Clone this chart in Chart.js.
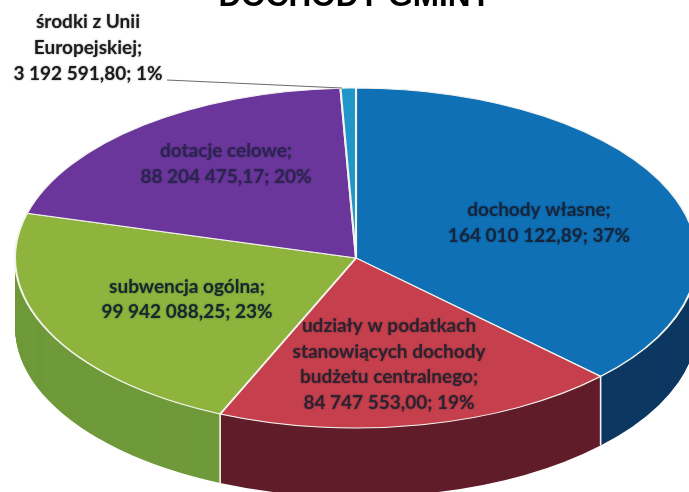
<!DOCTYPE html>
<html><head><meta charset="utf-8">
<style>html,body{margin:0;padding:0;background:#fff;overflow:hidden}canvas{display:block}</style>
<script src="https://cdn.jsdelivr.net/npm/chart.js@4"></script>
</head><body><canvas id="c" width="689" height="492"></canvas>
<script>
const chartTitle = "DOCHODY GMINY";
const categories = ["dochody własne", "udziały w podatkach stanowiących dochody budżetu centralnego", "subwencja ogólna", "dotacje celowe", "środki z Unii Europejskiej"];
const values = [164010122.89, 84747553.00, 99942088.25, 88204475.17, 3192591.80];
const valueLabels = ["164 010 122,89", "84 747 553,00", "99 942 088,25", "88 204 475,17", "3 192 591,80"];
const percentLabels = ["37%", "19%", "23%", "20%", "1%"];
const topColors = ["#0f70b6", "#c5404c", "#8eb43e", "#6a369c", "#2096c8"];
const sideColors = ["#0d3862", "#611d2a", "#6f9a3a", "#43255f", "#125a78"];

const CX = 356, CY = 258, RX = 341, RY = 170, DEPTH = 69;

// label layout: category line breaks, centre x, first line y
const labelLayout = [
  {lines:["dochody własne;"], x:539, y:210, lh:26},
  {lines:["udziały w podatkach","stanowiących dochody","budżetu centralnego;"], x:389, y:326, lh:25.5},
  {lines:["subwencja ogólna;"], x:187, y:287, lh:25},
  {lines:["dotacje celowe;"], x:226, y:151, lh:26},
  {lines:["środki z Unii","Europejskiej;"], x:88, y:22, lh:26}
];
const labelColors = ["#14263e","#2e2230","#132a2c","#2c2450","#1c1c1c"];

function place(ctx, arc, dy){
  const R = arc.outerRadius;
  ctx.translate(CX, CY + dy);
  ctx.scale(RX / R, RY / R);
  ctx.translate(-arc.x, -arc.y);
}
const pie3d = {
  id:"pie3d",
  beforeDatasetDraw(chart, args){
    const ctx = chart.ctx, arcs = args.meta.data;
    for (let d = DEPTH; d >= 1; d--){
      arcs.forEach((arc,i)=>{
        ctx.save();
        place(ctx, arc, d);
        const o = arc.options;
        arc.options = Object.assign(Object.create(o), {backgroundColor:sideColors[i], borderWidth:0});
        arc.draw(ctx);
        arc.options = o;
        ctx.restore();
      });
    }
    // white seams between side faces
    ctx.save();
    ctx.strokeStyle = "#f2f2ee"; ctx.lineWidth = 1.6;
    arcs.forEach(arc=>{
      const s = Math.sin(arc.startAngle), c = Math.cos(arc.startAngle);
      if (s > 0.05){
        const x = CX + RX*c, y = CY + RY*s;
        ctx.beginPath(); ctx.moveTo(x,y); ctx.lineTo(x,y+DEPTH); ctx.stroke();
      }
    });
    ctx.restore();
    ctx.save();
    place(ctx, arcs[0], 0);
  },
  afterDatasetDraw(chart){
    chart.ctx.restore();
    const ctx = chart.ctx;
    ctx.save();
    ctx.fillStyle = "#000";
    ctx.font = "bold 31.5px 'Liberation Sans'";
    ctx.textAlign = "center"; ctx.textBaseline = "alphabetic";
    ctx.fillText(chartTitle, 355, 6);
    // leader line
    ctx.strokeStyle = "#6a6a6a"; ctx.lineWidth = 1;
    ctx.beginPath(); ctx.moveTo(167,80); ctx.lineTo(342,88); ctx.stroke();
    ctx.font = "bold 19px Lato";
    ctx.textBaseline = "middle";
    ctx.shadowColor = "rgba(20,20,30,0.45)";
    ctx.shadowBlur = 2;
    labelLayout.forEach((l,i)=>{
      ctx.fillStyle = labelColors[i];
      let y = l.y;
      l.lines.forEach(t=>{ ctx.fillText(t, l.x, y); y += l.lh; });
      ctx.fillText(valueLabels[i] + "; " + percentLabels[i], l.x, y);
    });
    ctx.restore();
  }
};
new Chart(document.getElementById("c"), {
  type:"pie",
  data:{labels:categories, datasets:[{data:values, backgroundColor:topColors, borderColor:"#f4f4ee", borderWidth:1.5, clip:false}]},
  options:{responsive:false, animation:false, events:[], layout:{padding:0},
    rotation:0,
    plugins:{legend:{display:false}, tooltip:{enabled:false}, title:{display:false}}},
  plugins:[pie3d]
});
</script></body></html>
